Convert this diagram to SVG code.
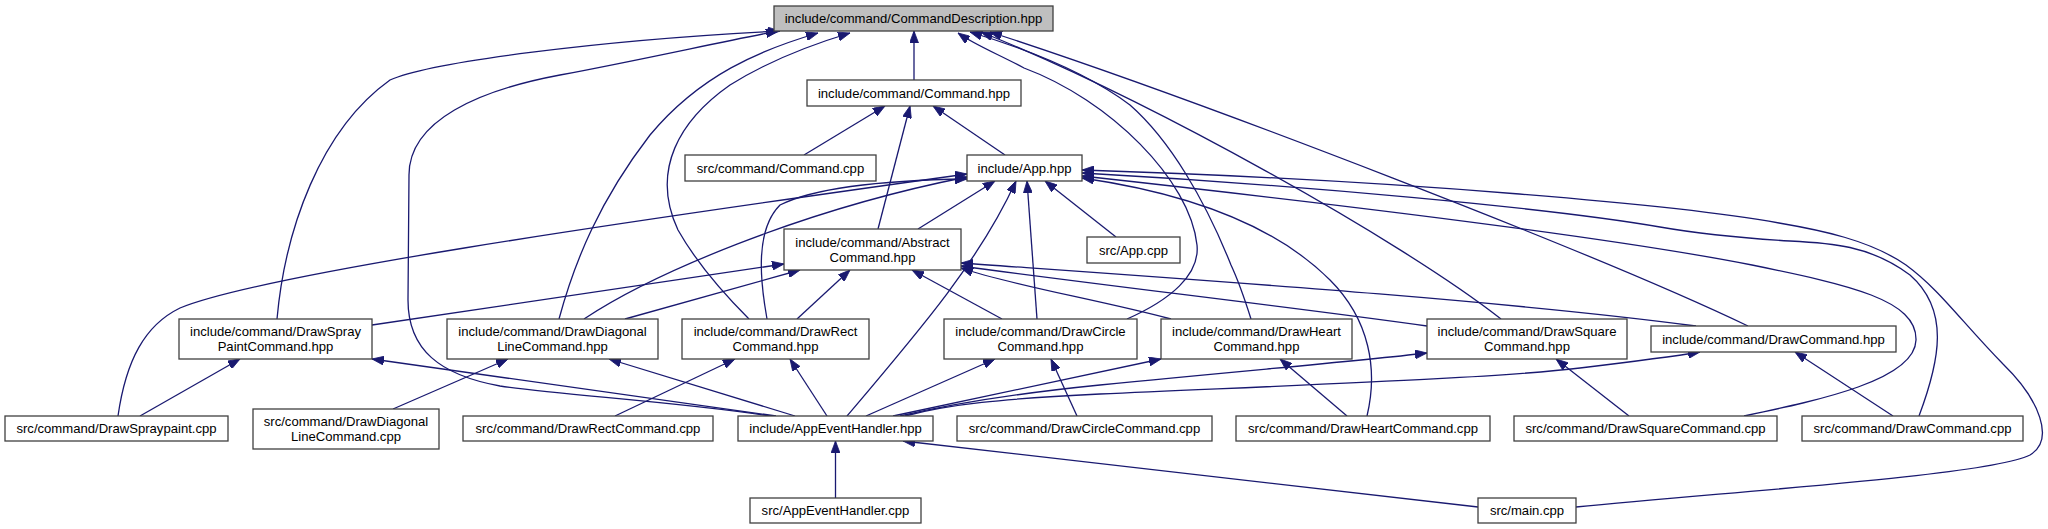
<svg xmlns="http://www.w3.org/2000/svg" width="2048" height="529" viewBox="0 0 2048 529">
<style>
.node rect{fill:#ffffff;stroke:#404040;stroke-width:1.3}
.root rect{fill:#bfbfbf}
.node text{font-family:"Liberation Sans",Arial,Helvetica,sans-serif;font-size:13.1px;text-anchor:middle;fill:#000}
.edges path{fill:none;stroke:#191970;stroke-width:1.3;marker-end:url(#ah)}
</style>
<defs>
<marker id="ah" viewBox="0 0 12 9" refX="12" refY="4.5" markerWidth="12" markerHeight="9" markerUnits="userSpaceOnUse" orient="auto">
<path d="M0,0 L12,4.5 L0,9 Z" fill="#191970" stroke="#191970" stroke-width="0.8"/>
</marker>
</defs>
<rect width="2048" height="529" fill="#ffffff"/>
<g class="edges" id="connectors">
<path d="M914,80 L914,31"/>
<path d="M277,319 C285,230 320,130 390,80 C430,62 600,40 780,31"/>
<path d="M770,416 C680,402 560,395 500,386 C440,375 408,350 408,300 L409,175 C409,120 480,90 560,75 C640,60 720,42 778,31"/>
<path d="M559,319 C575,260 600,200 650,135 C700,75 760,50 818,33"/>
<path d="M749,319 C720,290 695,260 678,230 C650,170 680,120 730,85 C770,60 810,45 850,33"/>
<path d="M1127,319 C1170,300 1200,275 1197,245 C1190,180 1110,100 1024,68 C1000,55 975,45 958,33"/>
<path d="M1251,319 C1245,300 1238,280 1231,265 C1205,200 1170,140 1130,105 C1090,75 1030,50 970,32"/>
<path d="M1501,319 C1400,240 1150,100 981,32"/>
<path d="M1748,326 C1600,255 1200,100 990,32"/>
<path d="M804,155 L885,106"/>
<path d="M878,229 L910,106"/>
<path d="M1005,155 L933,106"/>
<path d="M118,416 C126,360 145,325 180,308 C260,275 600,225 967,174"/>
<path d="M584,319 C650,275 800,210 967,177"/>
<path d="M767,319 C760,280 755,230 780,205 C820,185 900,180 967,179"/>
<path d="M918,229 L995,181"/>
<path d="M847,416 C920,330 980,260 1016,181"/>
<path d="M1037,319 L1027,181"/>
<path d="M1116,237 L1045,181"/>
<path d="M1367,416 C1378,370 1370,320 1330,280 C1280,230 1200,195 1082,178"/>
<path d="M1744,416 C1820,400 1915,380 1916,340 C1917,300 1850,285 1752,265 C1600,235 1300,200 1082,176"/>
<path d="M1919,416 C1940,360 1950,310 1910,275 C1870,245 1830,243 1790,241 C1740,238 1700,234 1660,227 C1550,208 1300,185 1082,173"/>
<path d="M1576,507 C1750,490 1990,475 2030,455 C2055,440 2040,400 2003,364 C1960,320 1940,290 1906,265 C1870,240 1820,230 1779,223 C1680,205 1400,180 1082,170"/>
<path d="M372,325 L784,264"/>
<path d="M625,319 L800,270"/>
<path d="M797,319 L850,270"/>
<path d="M1002,319 L912,270"/>
<path d="M1171,319 C1100,300 1010,285 961,268"/>
<path d="M1427,326 C1300,308 1100,285 961,266"/>
<path d="M1696,326 C1500,300 1200,280 961,263"/>
<path d="M776,416 L372,359"/>
<path d="M795,416 L609,359"/>
<path d="M827,416 L790,359"/>
<path d="M866,416 L995,359"/>
<path d="M893,416 L1161,359"/>
<path d="M900,416 C960,402 1020,393 1100,385 C1250,370 1350,362 1427,353"/>
<path d="M905,416 C950,404 1000,399 1100,394 C1300,385 1500,378 1580,368 C1630,362 1670,357 1700,352"/>
<path d="M835.5,498 L835.5,441"/>
<path d="M1478,507 L903,441"/>
<path d="M140,416 L240,359"/>
<path d="M393,409 L508,359"/>
<path d="M615,416 L735,359"/>
<path d="M1077,416 L1051,359"/>
<path d="M1347,416 L1280,359"/>
<path d="M1629,416 L1556,359"/>
<path d="M1893,416 L1795,352"/>
</g>
<g class="node root" id="node_root"><rect x="774" y="6" width="279" height="25"/><text x="913.5" y="23.1">include/command/CommandDescription.hpp</text></g>
<g class="node" id="node_command_hpp"><rect x="807" y="80" width="214" height="26"/><text x="914" y="97.6">include/command/Command.hpp</text></g>
<g class="node" id="node_command_cpp"><rect x="685" y="155" width="191" height="26"/><text x="780.5" y="172.6">src/command/Command.cpp</text></g>
<g class="node" id="node_app_hpp"><rect x="967" y="155" width="115" height="26"/><text x="1024.5" y="172.6">include/App.hpp</text></g>
<g class="node" id="node_app_cpp"><rect x="1087" y="237" width="93" height="26"/><text x="1133.5" y="254.6">src/App.cpp</text></g>
<g class="node" id="node_abstract"><rect x="784" y="229" width="177" height="41"/><text x="872.5" y="246.6">include/command/Abstract</text><text x="872.5" y="261.6">Command.hpp</text></g>
<g class="node" id="node_spray_hpp"><rect x="179" y="319" width="193" height="40"/><text x="275.5" y="336.1">include/command/DrawSpray</text><text x="275.5" y="351.1">PaintCommand.hpp</text></g>
<g class="node" id="node_diag_hpp"><rect x="447" y="319" width="211" height="40"/><text x="552.5" y="336.1">include/command/DrawDiagonal</text><text x="552.5" y="351.1">LineCommand.hpp</text></g>
<g class="node" id="node_rect_hpp"><rect x="682" y="319" width="187" height="40"/><text x="775.5" y="336.1">include/command/DrawRect</text><text x="775.5" y="351.1">Command.hpp</text></g>
<g class="node" id="node_circle_hpp"><rect x="944" y="319" width="193" height="40"/><text x="1040.5" y="336.1">include/command/DrawCircle</text><text x="1040.5" y="351.1">Command.hpp</text></g>
<g class="node" id="node_heart_hpp"><rect x="1161" y="319" width="191" height="40"/><text x="1256.5" y="336.1">include/command/DrawHeart</text><text x="1256.5" y="351.1">Command.hpp</text></g>
<g class="node" id="node_square_hpp"><rect x="1427" y="319" width="200" height="40"/><text x="1527" y="336.1">include/command/DrawSquare</text><text x="1527" y="351.1">Command.hpp</text></g>
<g class="node" id="node_drawcmd_hpp"><rect x="1651" y="326" width="245" height="26"/><text x="1773.5" y="343.6">include/command/DrawCommand.hpp</text></g>
<g class="node" id="node_spray_cpp"><rect x="5" y="416" width="223" height="25"/><text x="116.5" y="433.1">src/command/DrawSpraypaint.cpp</text></g>
<g class="node" id="node_diag_cpp"><rect x="253" y="409" width="186" height="40"/><text x="346" y="426.1">src/command/DrawDiagonal</text><text x="346" y="441.1">LineCommand.cpp</text></g>
<g class="node" id="node_rect_cpp"><rect x="463" y="416" width="250" height="25"/><text x="588" y="433.1">src/command/DrawRectCommand.cpp</text></g>
<g class="node" id="node_aeh_hpp"><rect x="738" y="416" width="195" height="25"/><text x="835.5" y="433.1">include/AppEventHandler.hpp</text></g>
<g class="node" id="node_circle_cpp"><rect x="957" y="416" width="255" height="25"/><text x="1084.5" y="433.1">src/command/DrawCircleCommand.cpp</text></g>
<g class="node" id="node_heart_cpp"><rect x="1236" y="416" width="254" height="25"/><text x="1363" y="433.1">src/command/DrawHeartCommand.cpp</text></g>
<g class="node" id="node_square_cpp"><rect x="1514" y="416" width="263" height="25"/><text x="1645.5" y="433.1">src/command/DrawSquareCommand.cpp</text></g>
<g class="node" id="node_drawcmd_cpp"><rect x="1802" y="416" width="221" height="25"/><text x="1912.5" y="433.1">src/command/DrawCommand.cpp</text></g>
<g class="node" id="node_aeh_cpp"><rect x="750" y="498" width="171" height="25"/><text x="835.5" y="515.1">src/AppEventHandler.cpp</text></g>
<g class="node" id="node_main_cpp"><rect x="1478" y="498" width="98" height="25"/><text x="1527" y="515.1">src/main.cpp</text></g>
</svg>
